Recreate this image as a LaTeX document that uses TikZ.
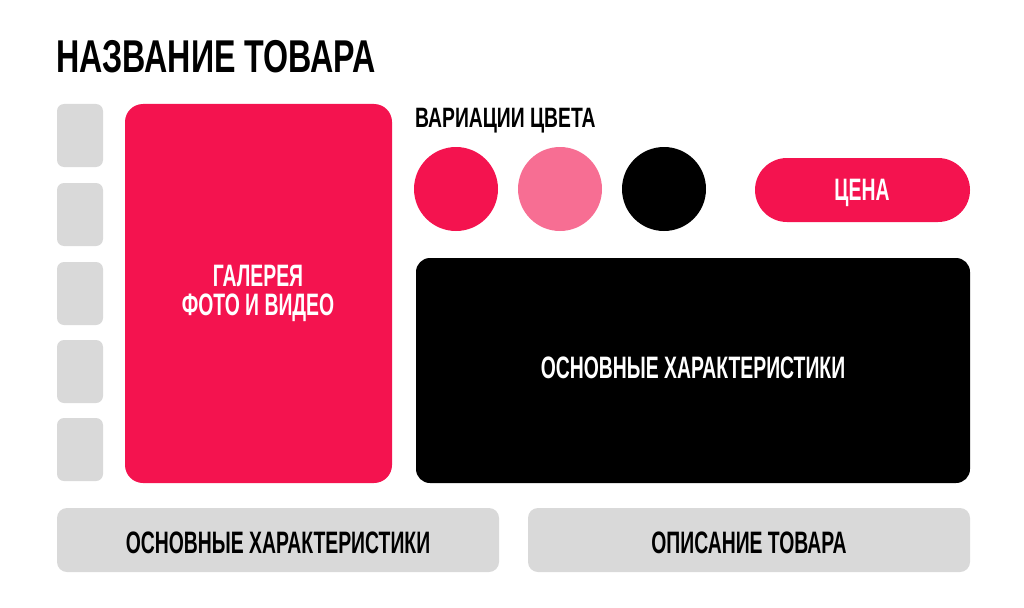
\documentclass[tikz,border=0pt]{standalone}
\usepackage{fontspec}
\setmainfont{Liberation Sans}[FakeStretch=0.625]
\newfontfamily\titlefont{Liberation Sans}[FakeStretch=0.70]
\newfontfamily\varfont{Liberation Sans}[FakeStretch=0.69]
\definecolor{hot}{HTML}{F4134F}
\definecolor{soft}{HTML}{F76E93}
\definecolor{pale}{HTML}{D9D9D9}
\begin{document}
\begin{tikzpicture}[x=1pt,y=-1pt,
  thumb/.style={fill=pale,rounded corners=7pt},
  lbl/.style={font=\bfseries\fontsize{31}{29}\selectfont,inner sep=0pt,anchor=base},
  swatch/.style={circle,minimum size=84pt,inner sep=0pt}]
\useasboundingbox (0,0) rectangle (1024,607);
\node[font=\titlefont\bfseries\fontsize{46}{50}\selectfont,anchor=base west,inner sep=0pt] (title) at (56,73) {НАЗВАНИЕ ТОВАРА};
% thumbnails
\foreach \y/\n in {104/t1,183/t2,262/t3,340/t4,418/t5}{
  \fill[thumb] (57,\y) rectangle ++(46,63);
}
% gallery
\fill[hot,rounded corners=18pt] (125,104) rectangle (392,483);
\node[lbl,text=white,align=center] (gal) at (258,315) {ГАЛЕРЕЯ\\ФОТО И ВИДЕО};
% colour variations
\node[font=\varfont\bfseries\fontsize{28}{30}\selectfont,inner sep=0pt,anchor=base west] (var) at (415,127) {ВАРИАЦИИ ЦВЕТА};
\node[swatch,fill=hot] (c1) at (456,189) {};
\node[swatch,fill=soft] (c2) at (560,189) {};
\node[swatch,fill=black] (c3) at (664,189) {};
% price
\fill[hot,rounded corners=32pt] (755,158) rectangle (970,222);
\node[lbl,text=white] (price) at (862,200) {ЦЕНА};
% main characteristics
\fill[black,rounded corners=14pt] (416,258) rectangle (970,483);
\node[lbl,text=white] (main) at (693,378) {ОСНОВНЫЕ ХАРАКТЕРИСТИКИ};
% bottom tabs
\fill[pale,rounded corners=10pt] (57,508) rectangle (499,572);
\node[lbl] (tab1) at (278,553) {ОСНОВНЫЕ ХАРАКТЕРИСТИКИ};
\fill[pale,rounded corners=10pt] (528,508) rectangle (970,572);
\node[lbl] (tab2) at (749,553) {ОПИСАНИЕ ТОВАРА};
\end{tikzpicture}
\end{document}
